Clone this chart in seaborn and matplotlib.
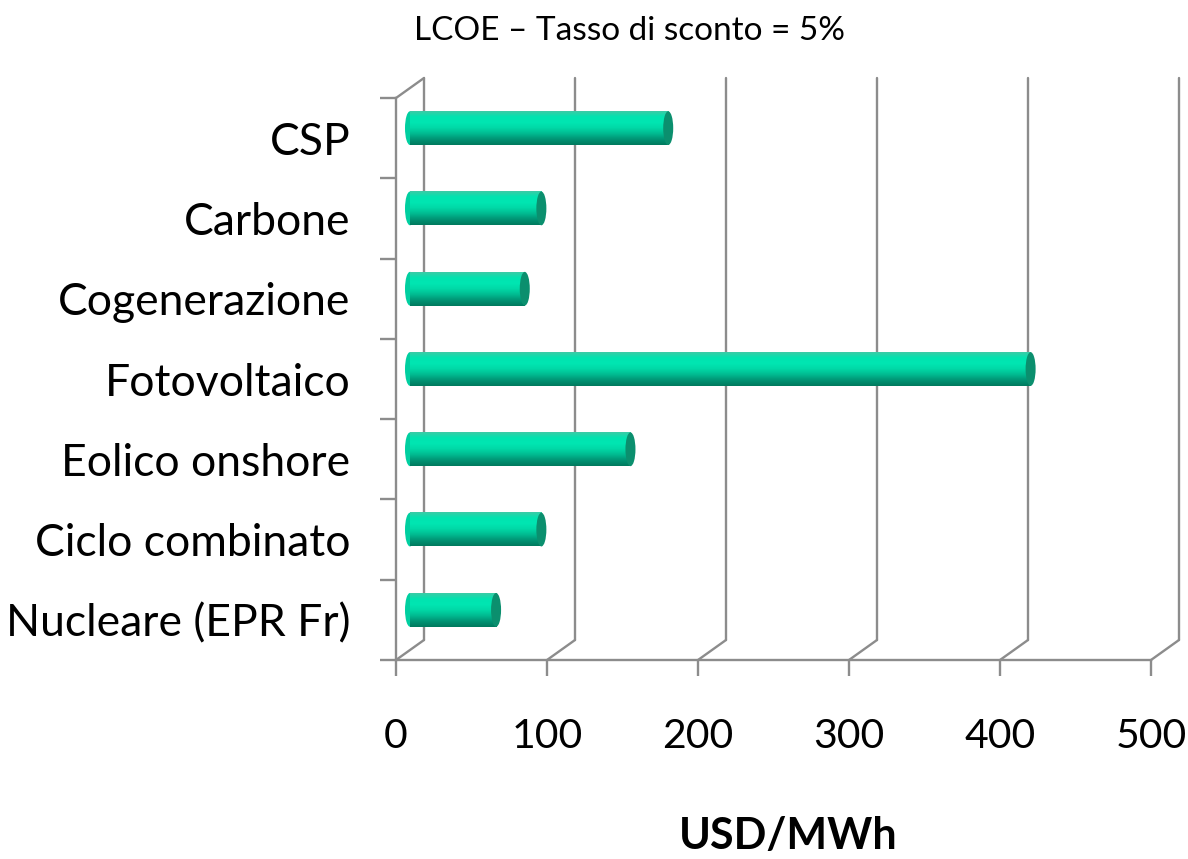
import numpy as np
import pandas as pd
import matplotlib
matplotlib.use("Agg")
import matplotlib.pyplot as plt
import seaborn as sns
from matplotlib.transforms import ScaledTranslation
from matplotlib.patches import Ellipse, ConnectionPatch
from matplotlib.colors import LinearSegmentedColormap

# data (USD/MWh, discount rate 5%)
categories = ["CSP", "Carbone", "Cogenerazione", "Fotovoltaico",
              "Eolico onshore", "Ciclo combinato", "Nucleare (EPR Fr)"]
lcoe = [171, 87, 76, 411, 146, 87, 57]
xticks = [0, 100, 200, 300, 400, 500]

title = "LCOE \u2013 Tasso di sconto = 5%"
xlabel = "USD/MWh"

GRAY = "#8c8c8c"
CAP = "#0b8f6e"
BAR_COLORS = ["#3ccba6", "#00e4b0", "#00e6b2", "#00d8a6",
              "#00ba90", "#009474", "#007a5e"]


def main():
    sns.set_theme(style="white")
    plt.rcParams["font.family"] = ["Lato", "DejaVu Sans"]

    fig = plt.figure(figsize=(11.88, 8.59), dpi=100)
    ax = fig.add_axes([396 / 1188, 199 / 859, 755 / 1188, 562 / 859])

    df = pd.DataFrame({"tech": categories, "lcoe": lcoe})
    sns.barplot(data=df, x="lcoe", y="tech", orient="h", width=0.42,
                errorbar=None, color="#00d4a4", ax=ax)
    bars = list(ax.patches)

    ax.set_xlim(0, 500)
    ax.set_ylim(6.5, -0.5)

    # fake 3D depth: back wall and mid plane offsets (in inches)
    back = ax.transData + ScaledTranslation(0.28, 0.20, fig.dpi_scale_trans)
    mid = ax.transData + ScaledTranslation(0.14, 0.10, fig.dpi_scale_trans)

    for x in xticks:
        ax.plot([x, x], [6.5, -0.5], transform=back, color=GRAY, lw=1.7,
                zorder=1, clip_on=False)
        con = ConnectionPatch((x, 6.5), (x, 6.5), coordsA=ax.transData,
                              coordsB=back, color=GRAY, lw=1.7, zorder=1)
        fig.add_artist(con)
    con = ConnectionPatch((0, -0.5), (0, -0.5), coordsA=ax.transData,
                          coordsB=back, color=GRAY, lw=1.7, zorder=1)
    fig.add_artist(con)

    # cylinder-looking bars
    cmap = LinearSegmentedColormap.from_list("cyl", BAR_COLORS)
    grad = np.linspace(0, 1, 64).reshape(-1, 1)
    cap_w = 10 / 151 * 100
    for p in bars:
        y0, h, w = p.get_y(), p.get_height(), p.get_width()
        yc = y0 + h / 2
        p.set_visible(False)
        ax.add_patch(Ellipse((0, yc), cap_w, h, transform=mid,
                             facecolor="#00cfa0", edgecolor="none", zorder=3))
        ax.imshow(grad, cmap=cmap, extent=(0, w, y0 + h, y0), origin="upper",
                  aspect="auto", transform=mid, interpolation="bilinear",
                  zorder=4)
        ax.add_patch(Ellipse((w, yc), cap_w, h, transform=mid,
                             facecolor=CAP, edgecolor="none", zorder=5))

    ax.set_xlim(0, 500)
    ax.set_ylim(6.5, -0.5)

    ax.set_xticks(xticks)
    ax.set_yticks(range(len(categories)))
    ax.set_yticklabels(categories)
    ax.set_yticks(np.arange(-0.5, len(categories), 1), minor=True)
    ax.tick_params(axis="y", which="major", length=0, pad=33, labelsize=32,
                   labelcolor="black")
    ax.tick_params(axis="y", which="minor", left=True, length=11.5,
                   width=1.7, color=GRAY)
    ax.tick_params(axis="x", which="major", bottom=True, length=11.5,
                   width=1.7, color=GRAY, pad=30, labelsize=29.5,
                   labelcolor="black")
    ax.set_xlabel("")
    ax.set_ylabel("")

    for side in ["top", "right"]:
        ax.spines[side].set_visible(False)
    for side in ["left", "bottom"]:
        ax.spines[side].set_color(GRAY)
        ax.spines[side].set_linewidth(1.7)
    ax.patch.set_alpha(0)

    fig.text(630 / 1188, 1 - 31 / 859, title, ha="center", va="center",
             fontsize=24, color="black")
    fig.text(788 / 1188, 1 - 836 / 859, xlabel, ha="center", va="center",
             fontsize=31, fontweight="bold", color="black")

    fig.savefig("out.png", dpi=100)


if __name__ == "__main__":
    main()
